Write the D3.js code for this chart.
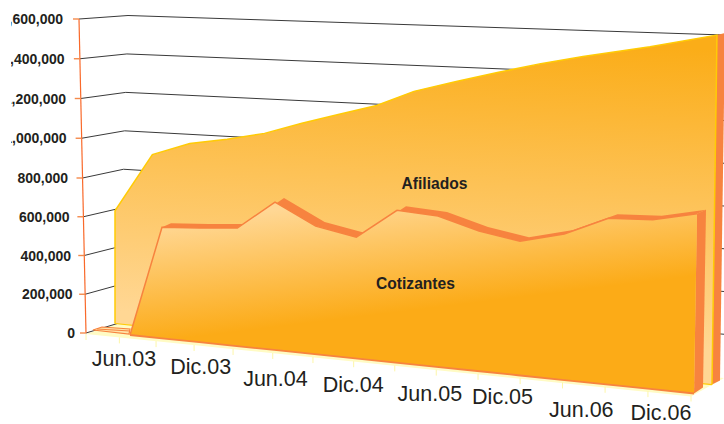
<!DOCTYPE html>
<html><head><meta charset="utf-8">
<script src="https://cdn.jsdelivr.net/npm/d3@7/dist/d3.min.js"></script>
<style>html,body{margin:0;padding:0;background:#fff;overflow:hidden}svg{display:block}text{font-family:"Liberation Sans",Arial,sans-serif;fill:#231f20}</style>
</head><body><svg id="c" width="724" height="424"></svg>
<script>
// Data
const periods = ["Jun.03","Sep.03","Dic.03","Mar.04","Jun.04","Sep.04","Dic.04","Mar.05","Jun.05","Sep.05","Dic.05","Mar.06","Jun.06","Sep.06","Dic.06"];
const afiliados = [593000,887000,941000,959000,984000,1028000,1065000,1099000,1155000,1190000,1220000,1247000,1267000,1290000,1319000];
const cotizantes = [0,541000,541000,544000,663000,558000,514000,628000,606000,548000,512000,542000,602000,598000,620000];
const yTicks = [0,200000,400000,600000,800000,1000000,1200000,1400000,1600000];
const xLabels = ["Jun.03","Dic.03","Jun.04","Dic.04","Jun.05","Dic.05","Jun.06","Dic.06"];
const xLabelNudgeX = [0,0,-2,-1,-1,-5,-3,0];
const xLabelNudgeY = [0,0,4,2,2,-3,2.5,-3.5];

const svg = d3.select("#c");
const defs = svg.append("defs");
function grad(id,x1,y1,x2,y2,c1,c2){
  const g=defs.append("linearGradient").attr("id",id).attr("gradientUnits","userSpaceOnUse")
    .attr("x1",x1).attr("y1",y1).attr("x2",x2).attr("y2",y2);
  g.append("stop").attr("offset",0).attr("stop-color",c1);
  g.append("stop").attr("offset",1).attr("stop-color",c2);
}
grad("gA",420,30,400,330,"#fbad18","#ffd794");
grad("gC",400,195,414,310,"#ffd794","#fcab17");
defs.append("clipPath").attr("id","clipL").append("rect").attr("x",11).attr("y",0).attr("width",80).attr("height",424);

const n = periods.length-1, maxV = 1600000;
// perspective scales
const leftY  = d3.scaleLinear([0,800000,maxV],[333,178,19]);
const leftX  = d3.scaleLinear([0,maxV],[86,79]);
const cornerY= d3.scaleLinear([0,maxV],[323,15.5]);
const cornerX= d3.scaleLinear([0,maxV],[119,128]);
const rightY = d3.scaleLinear([0,maxV],[377,35]);
const rightX = d3.scaleLinear([0,maxV],[724,724]);

function plane(kx,rx,lean,y0,y1,k0,k1){
  const px=d3.scaleLinear(kx,rx);
  const x0=rx[0],x1=rx[rx.length-1];
  const bx=d3.scaleLinear([x0,x1],[x0,x1-lean]);
  const py=d3.scaleLinear([x0,x1],[y0,y1]);
  const pk=d3.scaleLinear([x0,x1],[k0,k1]);
  return {
    base:i=>[bx(px(i)),py(px(i))],
    top:(i,v)=>[px(i),py(px(i))-v*pk(px(i))/1e6]
  };
}
const pA = plane([0,8,12,14],[115,414,583,717],5,323.5,384.6,190,265);
const pC = plane([0,1,4,7,10,14],[130,162,275,397,520,697],3,335,393.5,200,290);
const line = d3.line();

// floor
const floorG = svg.append("g");
const floorEdgeX = d3.scalePow().exponent(1.07).domain([0,15]).range([86,691]);
const floorEdgeY = d3.scaleLinear([86,691],[335,396.5]);
floorG.append("path").attr("d",line([[86,334],[119,323],[724,378],[691,396.5]])+"Z").attr("fill","#fffbc4");
floorG.selectAll("line").data(d3.range(16)).join("line")
  .attr("x1",d=>floorEdgeX(d)).attr("x2",d=>floorEdgeX(d))
  .attr("y1",d=>floorEdgeY(floorEdgeX(d))-1).attr("y2",d=>floorEdgeY(floorEdgeX(d))+5)
  .attr("stroke","#fdf6a8").attr("stroke-width",1);

// back walls
svg.append("g").selectAll("path").data(yTicks.filter(d=>d>0)).join("path")
  .attr("d",d=>line([[leftX(d),leftY(d)],[cornerX(d),cornerY(d)],[rightX(d),rightY(d)]]))
  .attr("fill","none").attr("stroke","#3a3a3a").attr("stroke-width",1);
svg.append("path").attr("d",line([[leftX(0),leftY(0)],[cornerX(0),cornerY(0)]])).attr("fill","none").attr("stroke","#3a3a3a");

// y axis
svg.append("line").attr("x1",leftX(maxV)).attr("y1",leftY(maxV)).attr("x2",leftX(0)).attr("y2",leftY(0))
  .attr("stroke","#f9692a").attr("stroke-width",1.2);
svg.append("g").selectAll("line").data(yTicks).join("line")
  .attr("x1",d=>leftX(d)-6).attr("x2",d=>leftX(d)).attr("y1",d=>leftY(d)).attr("y2",d=>leftY(d))
  .attr("stroke","#f58a4b").attr("stroke-width",1.4);
const labelRight = d3.scaleLinear([0,maxV],[75,63]);
svg.append("g").attr("clip-path","url(#clipL)").selectAll("text").data(yTicks).join("text")
  .attr("x",d=>d===0?75:labelRight(d)+(d<=1000000?-1:0)).attr("y",d=>leftY(d)+5).attr("text-anchor","end")
  .attr("font-size",14).attr("font-weight","bold").text(d3.format(","));

// Afiliados
const dA=[8,-4], dC=[9,-4];
const topA = afiliados.map((v,i)=>pA.top(i,v)), baseA = afiliados.map((v,i)=>pA.base(i));
const rA = topA[n], rAb = baseA[n];
svg.append("path").attr("d",line([rA,[rA[0]+dA[0],rA[1]+dA[1]+2],[rAb[0]+dA[0],rAb[1]+dA[1]],rAb])+"Z").attr("fill","#f7833f");
svg.append("path").attr("d",line(topA.concat(baseA.slice().reverse()))+"Z").attr("fill","url(#gA)");
svg.append("path").attr("d",line([baseA[0]].concat(topA,[baseA[n]]))).attr("fill","none").attr("stroke","#ffcb05").attr("stroke-width",1.5);
svg.append("path").attr("d",line(baseA)).attr("fill","none").attr("stroke","#ffcb05").attr("stroke-width",1.2);

// Cotizantes
const topC = cotizantes.map((v,i)=>pC.top(i,v)), baseC = cotizantes.map((v,i)=>pC.base(i));
const shift = p=>[p[0]+dC[0],p[1]+dC[1]];
const topBand = topC.slice(1);
svg.append("path").attr("d",line(topBand.concat(topBand.map(shift).reverse()))+"Z").attr("fill","#f7833f");
svg.append("path").attr("d",line([topC[n],shift(topC[n]),[baseC[n][0]+dC[0],baseC[n][1]-6],baseC[n]])+"Z").attr("fill","#f7833f");
// strip of the series start on the floor
svg.append("path").attr("d",line([[93,330],[129,334],[130,329],[102,327]])+"Z").attr("fill","#ffe3a8").attr("stroke","#f7833f").attr("stroke-width",1.2);
svg.append("path").attr("d",line([[97,329],[130,331]])).attr("fill","none").attr("stroke","#f7833f").attr("stroke-width",1.2);
svg.append("path").attr("d",line(topC.concat(baseC.slice().reverse()))+"Z").attr("fill","url(#gC)");
svg.append("path").attr("d",line(topC)).attr("fill","none").attr("stroke","#f7833f").attr("stroke-width",1.5);
svg.append("path").attr("d",line(baseC)).attr("fill","none").attr("stroke","#f7833f").attr("stroke-width",1.8);

// labels
const lx = d3.scaleLinear([0,xLabels.length-1],[124,661]);
const ly = d3.scaleLinear([0,xLabels.length-1],[366,423]);
svg.append("g").selectAll("text").data(xLabels).join("text")
  .attr("x",(d,i)=>lx(i)+xLabelNudgeX[i]).attr("y",(d,i)=>ly(i)+xLabelNudgeY[i]).attr("text-anchor","middle")
  .attr("font-size",21.5).text(d=>d);
svg.append("text").attr("x",434.5).attr("y",189).attr("text-anchor","middle").attr("font-size",15.6).attr("font-weight","bold").text("Afiliados");
svg.append("text").attr("x",415.5).attr("y",289).attr("text-anchor","middle").attr("font-size",15.6).attr("font-weight","bold").text("Cotizantes");
</script></body></html>
